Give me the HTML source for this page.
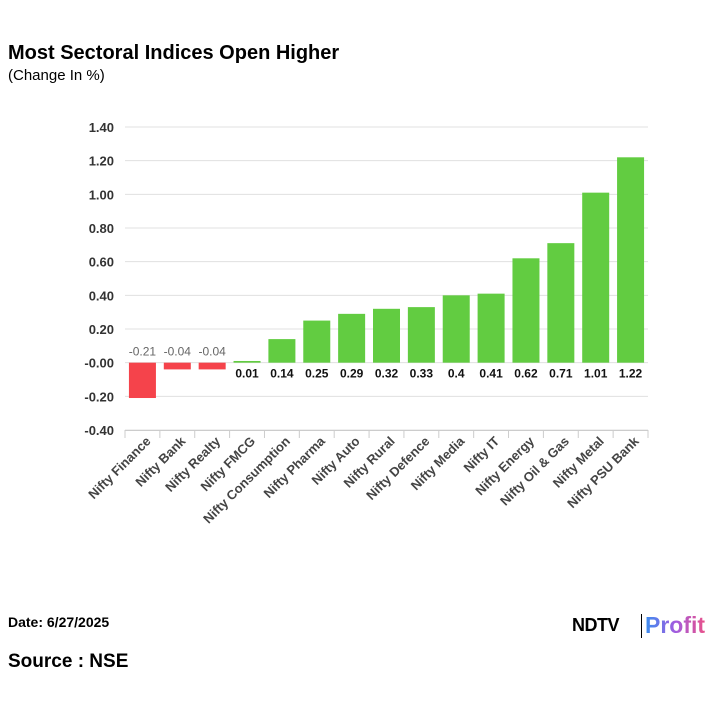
<!DOCTYPE html>
<html><head><meta charset="utf-8"><style>
body{margin:0;width:720px;height:720px;background:#fff;font-family:"Liberation Sans",Arial,sans-serif;position:relative;overflow:hidden}
.t{position:absolute}
</style></head><body>
<div class="t" style="left:8px;top:42px;font-size:20px;font-weight:bold;color:#000">Most Sectoral Indices Open Higher</div>
<div class="t" style="left:8px;top:67px;font-size:15px;color:#000">(Change In %)</div>
<svg id="c" width="720" height="720" style="position:absolute;left:0;top:0"></svg>
<div class="t" style="left:8px;top:614px;font-size:14px;font-weight:bold">Date: 6/27/2025</div>
<div class="t" style="left:8px;top:651px;font-size:19px;font-weight:bold">Source : NSE</div>
<div class="t" style="left:572px;top:615px;font-size:18px;font-weight:900;letter-spacing:-0.5px">NDTV</div>
<div class="t" style="left:641px;top:614px;width:1px;height:24px;background:#000"></div>
<div class="t" style="left:645px;top:612px;font-size:23px;font-weight:900;background:linear-gradient(90deg,#3a8ef0,#a05ce0,#e8508a);-webkit-background-clip:text;color:transparent">Profit</div>
<script>
const categories=["Nifty Finance","Nifty Bank","Nifty Realty","Nifty FMCG","Nifty Consumption","Nifty Pharma","Nifty Auto","Nifty Rural","Nifty Defence","Nifty Media","Nifty IT","Nifty Energy","Nifty Oil & Gas","Nifty Metal","Nifty PSU Bank"];
const values=[-0.21,-0.04,-0.04,0.01,0.14,0.25,0.29,0.32,0.33,0.4,0.41,0.62,0.71,1.01,1.22];
const valueLabels=["-0.21","-0.04","-0.04","0.01","0.14","0.25","0.29","0.32","0.33","0.4","0.41","0.62","0.71","1.01","1.22"];
const ticks=[1.4,1.2,1.0,0.8,0.6,0.4,0.2,0,-0.2,-0.4];
const tickLabels=["1.40","1.20","1.00","0.80","0.60","0.40","0.20","-0.00","-0.20","-0.40"];
const svg=document.getElementById('c'),NS="http://www.w3.org/2000/svg";
const X0=125,X1=648,Y0=127,Y1=430,VMAX=1.4,VMIN=-0.4;
const y=v=>Y0+(VMAX-v)/(VMAX-VMIN)*(Y1-Y0);
const bw=(X1-X0)/categories.length;
const x=i=>X0+i*bw;
function mk(t,a,txt){const e=document.createElementNS(NS,t);for(const k in a)e.setAttribute(k,a[k]);if(txt!=null)e.textContent=txt;svg.appendChild(e);return e;}
ticks.forEach((t,i)=>{
 const g=mk('line',{x1:X0,x2:X1,y1:y(t),y2:y(t),stroke:'#e0e0e0','stroke-width':1});
 
 
 const l=mk('text',{x:114,y:y(t)+5,'text-anchor':'end','font-size':13,'font-weight':'bold',fill:'#333'},tickLabels[i]);
 
 
});
mk('line',{x1:X0,x2:X1,y1:Y1+0.5,y2:Y1+0.5,stroke:'#ccc'});
for(let i=0;i<=categories.length;i++){mk('line',{x1:x(i),x2:x(i),y1:Y1,y2:Y1+8,stroke:'#ccc'});}
values.forEach((v,i)=>{
 const cx=x(i)+bw/2,top=Math.min(y(v),y(0)),h=Math.max(Math.abs(y(v)-y(0)),1.5);
 const r=mk('rect',{x:cx-13.5,y:top,width:27,height:h,fill:v<0?'#f5434b':'#62cc41'});
 
 
 const l=v<0?mk('text',{x:cx,y:y(0)-7,'text-anchor':'middle','font-size':12,fill:'#666'},valueLabels[i])
           :mk('text',{x:cx,y:y(0)+15,'text-anchor':'middle','font-size':12,'font-weight':'bold',fill:'#111'},valueLabels[i]);
 
 
 const c=mk('text',{x:cx+9,y:Y1+12,'text-anchor':'end','font-size':13,'font-weight':'bold',fill:'#444',transform:`rotate(-45 ${cx+9} ${Y1+12})`},categories[i]);
 
 
});
</script>
</body></html>
